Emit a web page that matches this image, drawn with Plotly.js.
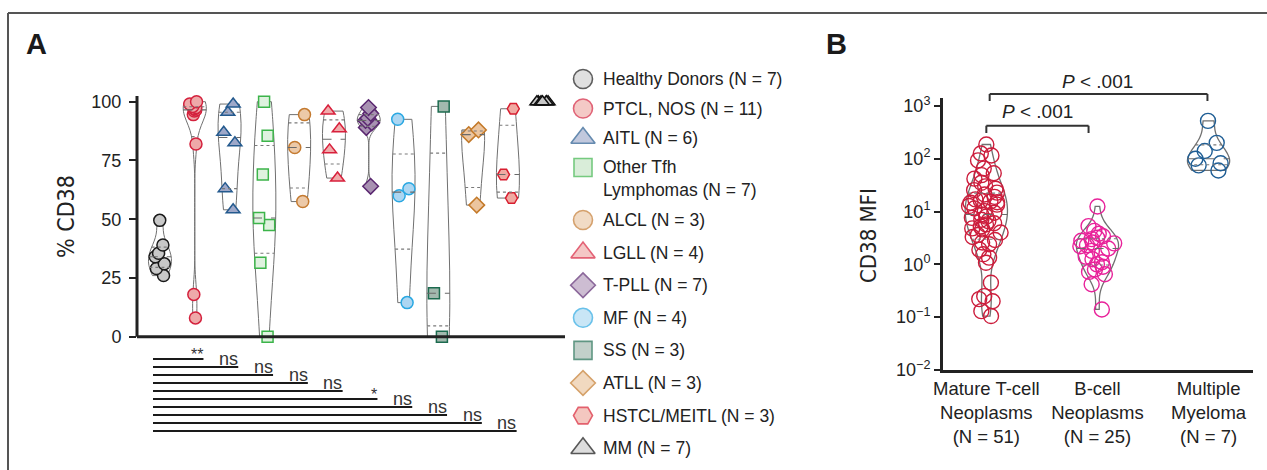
<!DOCTYPE html>
<html><head><meta charset="utf-8">
<script src="https://cdn.plot.ly/plotly-3.0.1.min.js"></script>
<style>html,body{margin:0;padding:0;background:#fff}#chart{width:1267px;height:470px}</style>
</head><body><div id="chart"></div>
<script>
// ---------- Panel A data (% CD38) ----------
const groupsA = ['Healthy Donors','PTCL, NOS','AITL','Other Tfh Lymphomas','ALCL','LGLL','T-PLL','MF','SS','ATLL','HSTCL/MEITL','MM'];
const legendLabelsA = ['Healthy Donors (N = 7)','PTCL, NOS (N = 11)','AITL (N = 6)','Other Tfh<br>Lymphomas (N = 7)','ALCL (N = 3)','LGLL (N = 4)','T-PLL (N = 7)','MF (N = 4)','SS (N = 3)','ATLL (N = 3)','HSTCL/MEITL (N = 3)','MM (N = 7)'];
const healthy = [49.5, 39, 35.5, 34, 31, 29, 26];
const ptcl = [100, 99, 98, 97.5, 97, 96.5, 96, 94.5, 82, 18, 8];
const aitl = [99, 95.5, 87, 82.5, 63, 54];
const tfh = [100, 85.5, 69, 50.5, 47.5, 31.5, 0];
const alcl = [94.5, 80.5, 57.5];
const lgll = [96, 88.5, 79.5, 67.5];
const tpll = [97.5, 95, 93, 92, 91, 89, 64];
const mf = [92.5, 63, 60, 14.5];
const ss = [98, 18.5, 0];
const atll = [88, 86, 56];
const hstcl = [97, 69, 59];
const mm = [100, 100, 100, 100, 100, 100, 100];
const yTicksA = [0, 25, 50, 75, 100];
const sigLabels = ['**','ns','ns','ns','ns','*','ns','ns','ns','ns'];

// ---------- Panel B data (CD38 MFI) ----------
const groupsB = ['Mature T-cell<br>Neoplasms<br>(N = 51)', 'B-cell<br>Neoplasms<br>(N = 25)', 'Multiple<br>Myeloma<br>(N = 7)'];
const tcell = [186, 126, 115, 93, 65, 53, 49, 42, 35, 30, 27, 25.5, 22.8, 21, 19, 17, 16, 15.5, 15, 14.7, 13.5, 12.7, 11.5, 10.2, 9.5, 8.8, 8, 7.6, 7, 6.6, 6, 5.7, 5.2, 4.8, 4.6, 4.0, 3.6, 3.3, 2.9, 2.6, 2.4, 1.9, 1.55, 1.34, 1.07, 0.45, 0.25, 0.22, 0.2, 0.13, 0.105];
const bcell = [12.5, 5.3, 4.3, 3.8, 3.4, 3.2, 3.0, 2.8, 2.6, 2.5, 2.3, 2.2, 2.0, 1.8, 1.6, 1.4, 1.25, 1.1, 1.0, 0.9, 0.8, 0.72, 0.65, 0.42, 0.14];
const myeloma = [520, 200, 140, 100, 82, 75, 60];
const yTickExpB = [-2, -1, 0, 1, 2, 3];
const pLabels = ['<i>P</i> &lt; .001', '<i>P</i> &lt; .001'];

// ---------- styles ----------
const seriesA = [healthy, ptcl, aitl, tfh, alcl, lgll, tpll, mf, ss, atll, hstcl, mm];
const symbolsA = ['circle','circle','triangle-up','square','circle','triangle-up','diamond','circle','square','diamond','hexagon2','triangle-up'];
const fillsA = ['#c8c8c8','#eea9a9','#9ea8c9','#dff2df','#ecc9a8','#f0abab','#a891b2','#acd6f2','#a2b9ae','#ecc59f','#f0aaa2','#c8c8c8'];
const legendFillsA = ['#d4d4d4','#f0b3ae','#a8b2cf','#c9e6c9','#ecccad','#f0b0ae','#b8a2c0','#b3dcf3','#a9bdb4','#ecc9a6','#f0b0a6','#d0d0d0'];
const edgesA = ['#1a1a1a','#d4213d','#245a8e','#3cb44a','#c47a30','#d8203c','#5a2770','#2aa8e2','#1c6b4f','#c47a2a','#d81e30','#111111'];
const colorsB = ['#cc1d3c','#e8229a','#1f5e95'];
const seriesB = [tcell, bcell, myeloma];

const W = 1267, H = 470;
const FONT = 'Liberation Sans, Arial, Helvetica, sans-serif';
const NARROW = 'DejaVu Sans Condensed, Liberation Sans Narrow, sans-serif';
const TXT = '#222';
const VW_A = 0.66, VW_B = 0.38;

// ---- helpers reproducing the violin's kde, to place quartile lines inside each violin ----
function sorted(a) { return a.slice().sort((p, q) => p - q); }
function interpQ(arr, p) {
  let n = p * arr.length - 0.5;
  if (n < 0) return arr[0];
  if (n > arr.length - 1) return arr[arr.length - 1];
  const f = n % 1;
  return f * arr[Math.ceil(n)] + (1 - f) * arr[Math.floor(n)];
}
function bandwidthOf(vals) {
  const s = sorted(vals), n = s.length, span = s[n - 1] - s[0];
  if (!span) return 0;
  const mean = s.reduce((a, b) => a + b, 0) / n;
  const ssd = Math.sqrt(s.reduce((a, b) => a + (b - mean) * (b - mean), 0) / (n - 1));
  const iqr = interpQ(s, 0.75) - interpQ(s, 0.25);
  return Math.max(1.059 * Math.min(ssd, iqr / 1.349) * Math.pow(n, -0.2), span / 100);
}
function quartileLines(vals, xc, fullW) {
  const s = sorted(vals), bw = bandwidthOf(vals);
  if (!bw) return null;
  const kde = y => vals.reduce((acc, v) => acc + Math.exp(-0.5 * ((y - v) / bw) ** 2), 0);
  let dmax = 0;
  const lo = s[0], hi = s[s.length - 1];
  for (let k = 0; k <= 400; k++) dmax = Math.max(dmax, kde(lo + (hi - lo) * k / 400));
  const seg = y => { const h = fullW / 2 * kde(y) / dmax; return {x: [xc - h, xc + h, null], y: [y, y, null]}; };
  return {med: seg(interpQ(s, 0.5)), q1: seg(interpQ(s, 0.25)), q3: seg(interpQ(s, 0.75))};
}
function pushLines(traces, q, xa, ya) {
  if (!q) return;
  traces.push({type: 'scatter', mode: 'lines', xaxis: xa, yaxis: ya, x: q.med.x, y: q.med.y,
    line: {color: '#6a6a6a', width: 1.1, dash: 'dash'}, hoverinfo: 'skip', showlegend: false});
  traces.push({type: 'scatter', mode: 'lines', xaxis: xa, yaxis: ya, x: q.q1.x.concat(q.q3.x), y: q.q1.y.concat(q.q3.y),
    line: {color: '#7a7a7a', width: 1.1, dash: 'dot'}, hoverinfo: 'skip', showlegend: false});
}

const traces = [];
seriesA.forEach((vals, i) => {
  traces.push({
    type: 'violin', xaxis: 'x', yaxis: 'y',
    x: vals.map(() => i), y: vals, name: groupsA[i],
    points: 'all', pointpos: 0, jitter: 0.6,
    spanmode: 'hard', scalemode: 'width', width: VW_A,
    line: {color: i === 11 ? 'rgba(0,0,0,0)' : '#707070', width: 1},
    fillcolor: 'rgba(0,0,0,0)',
    box: {visible: false}, meanline: {visible: false},
    marker: {symbol: symbolsA[i], size: symbolsA[i] === 'square' ? 11 : 12,
             color: fillsA[i], line: {color: edgesA[i], width: 1.5}},
    hoverinfo: 'skip', showlegend: false
  });
});
seriesA.forEach((vals, i) => { if (i !== 11) pushLines(traces, quartileLines(vals, i, VW_A), 'x', 'y'); });

seriesB.forEach((vals, i) => {
  traces.push({
    type: 'violin', xaxis: 'x2', yaxis: 'y2',
    x: vals.map(() => i), y: vals.map(v => Math.log10(v)), name: groupsB[i],
    points: 'all', pointpos: 0, jitter: 0.9,
    spanmode: 'hard', scalemode: 'width', width: VW_B,
    line: {color: '#707070', width: 1.3},
    fillcolor: 'rgba(0,0,0,0)',
    box: {visible: false}, meanline: {visible: false},
    marker: {symbol: 'circle', size: 15, color: 'rgba(0,0,0,0)', line: {color: colorsB[i], width: 1.4}},
    hoverinfo: 'skip', showlegend: false
  });
});
seriesB.forEach((vals, i) => pushLines(traces, quartileLines(vals.map(v => Math.log10(v)), i, VW_B), 'x2', 'y2'));

// custom legend (pixel-space overlay axis)
function legendRowY(i) { return i <= 3 ? 79 + 29.5 * i : 220 + 32.6 * (i - 4); }
traces.push({
  type: 'scatter', mode: 'markers', xaxis: 'x3', yaxis: 'y3', cliponaxis: false,
  x: groupsA.map(() => 583), y: groupsA.map((_, i) => legendRowY(i)),
  marker: {symbol: symbolsA, size: symbolsA.map(s => s.startsWith('triangle') ? 21 : (s === 'square' ? 18 : 19)),
           color: legendFillsA, line: {color: edgesA, width: 1.6}},
  hoverinfo: 'skip', showlegend: false
});

const annotations = [];
const shapes = [];
legendLabelsA.forEach((t, i) => {
  const lines = t.split('<br>').length;
  annotations.push({xref: 'x3', yref: 'y3', x: 601, y: legendRowY(i) + (lines - 1) * 10.8,
    text: t, showarrow: false, xanchor: 'left', yanchor: 'middle', align: 'left',
    font: {family: FONT, size: 17.5, color: TXT}});
});

// panel letters & axis titles
annotations.push({xref: 'x3', yref: 'y3', x: 24, y: 44, text: '<b>A</b>', showarrow: false, xanchor: 'left', yanchor: 'middle', font: {family: FONT, size: 29, color: '#1a1a1a'}});
annotations.push({xref: 'x3', yref: 'y3', x: 824, y: 44, text: '<b>B</b>', showarrow: false, xanchor: 'left', yanchor: 'middle', font: {family: FONT, size: 29, color: '#1a1a1a'}});
annotations.push({xref: 'x3', yref: 'y3', x: 66, y: 217, text: '% CD38', textangle: -90, showarrow: false, font: {family: NARROW, size: 23, color: TXT}});
annotations.push({xref: 'x3', yref: 'y3', x: 868, y: 236, text: 'CD38 MFI', textangle: -90, showarrow: false, font: {family: NARROW, size: 22, color: TXT}});

// significance lines under panel A
sigLabels.forEach((lab, k) => {
  const yy = 359 + 8 * k;
  shapes.push({type: 'line', xref: 'x', yref: 'y3', x0: -0.2, x1: k + 1 + 0.25, y0: yy, y1: yy, line: {color: '#1a1a1a', width: 2.2}});
  annotations.push({xref: 'x', yref: 'y3', x: k + 1 + 0.3, y: yy, text: lab, showarrow: false,
    xanchor: 'right', yanchor: 'bottom', yshift: lab === 'ns' ? -4 : -6,
    font: {family: FONT, size: lab === 'ns' ? 18 : 16, color: '#333'}});
});

// panel A axis lines
shapes.push({type: 'line', xref: 'x domain', yref: 'y', x0: 0, x1: 0, y0: 0, y1: 102.4, line: {color: '#222', width: 3}});
shapes.push({type: 'line', xref: 'x domain', yref: 'y', x0: 0, x1: 1, y0: 0, y1: 0, line: {color: '#222', width: 3}});

// panel B brackets
const brackets = [{a: 0, b: 0.92, top: 125.7, leg: 133, lx: 0.46, ly: 111}, {a: 0.03, b: 1.99, top: 94, leg: 101, lx: 1.0, ly: 81}];
brackets.forEach((br, i) => {
  const ln = {color: '#333', width: 2};
  shapes.push({type: 'line', xref: 'x2', yref: 'y3', x0: br.a, x1: br.b, y0: br.top, y1: br.top, line: ln});
  shapes.push({type: 'line', xref: 'x2', yref: 'y3', x0: br.a, x1: br.a, y0: br.top, y1: br.leg, line: ln});
  shapes.push({type: 'line', xref: 'x2', yref: 'y3', x0: br.b, x1: br.b, y0: br.top, y1: br.leg, line: ln});
  annotations.push({xref: 'x2', yref: 'y3', x: br.lx, y: br.ly, text: pLabels[i], showarrow: false,
    xanchor: 'center', yanchor: 'middle', font: {family: FONT, size: 19, color: TXT}});
});

// frame
shapes.push({type: 'line', xref: 'x3', yref: 'y3', x0: 8, x1: 8, y0: 13, y1: 470, line: {color: '#555', width: 2}});
shapes.push({type: 'line', xref: 'x3', yref: 'y3', x0: 8, x1: 1267, y0: 13, y1: 13, line: {color: '#555', width: 2}});

const layout = {
  width: W, height: H, margin: {l: 0, r: 0, t: 0, b: 0},
  paper_bgcolor: '#fff', plot_bgcolor: 'rgba(0,0,0,0)',
  showlegend: false, violinmode: 'overlay', violingap: 0,
  font: {family: FONT, color: TXT},
  xaxis: {domain: [137 / W, 565 / W], anchor: 'y', range: [-0.66, 11.64],
    showticklabels: false, ticks: '', showline: false, showgrid: false, zeroline: false},
  yaxis: {domain: [1 - 355.5 / H, 1 - 82.9 / H], anchor: 'x', range: [-8, 108], tickmode: 'array', tickvals: yTicksA,
    ticks: 'outside', ticklen: 7, tickwidth: 2, tickcolor: '#222', showline: false, showgrid: false, zeroline: false,
    tickfont: {family: FONT, size: 18, color: TXT}, ticklabelstandoff: 4},
  xaxis2: {domain: [943 / W, 1253 / W], anchor: 'y2', range: [-0.39, 2.4], tickmode: 'array',
    tickvals: groupsB.map((_, i) => i), ticktext: groupsB,
    ticks: '', showline: true, linewidth: 3, linecolor: '#222', showgrid: false, zeroline: false,
    tickfont: {family: FONT, size: 18.5, color: TXT}},
  yaxis2: {domain: [1 - 370 / H, 1 - 98 / H], anchor: 'x2', range: [-2, 3.15], tickmode: 'array', tickvals: yTickExpB,
    ticktext: yTickExpB.map(e => '10<sup>' + (e < 0 ? '\u2212' + (-e) : e) + '</sup>'),
    ticks: 'outside', ticklen: 6, tickwidth: 2, tickcolor: '#222', showline: true, linewidth: 3, linecolor: '#222',
    showgrid: false, zeroline: false, tickfont: {family: FONT, size: 18, color: TXT}},
  xaxis3: {domain: [0, 1], anchor: 'y3', range: [0, W], visible: false, fixedrange: true},
  yaxis3: {domain: [0, 1], anchor: 'x3', range: [H, 0], visible: false, fixedrange: true},
  annotations: annotations, shapes: shapes
};

Plotly.newPlot('chart', traces, layout, {staticPlot: true, displayModeBar: false});
</script></body></html>
